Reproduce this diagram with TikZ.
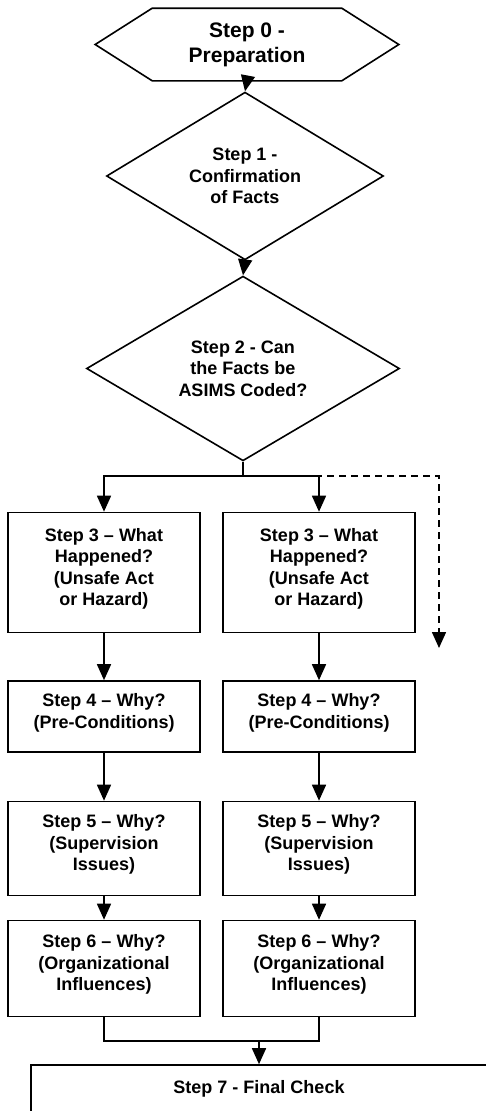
\documentclass[tikz,border=0pt]{standalone}
\usepackage{fontspec}
\setmainfont{Liberation Sans}
\usetikzlibrary{shapes.geometric,arrows.meta}

\begin{document}
\begin{tikzpicture}[x=1pt,y=-1pt,
  line width=1.6pt,
  every node/.style={font=\bfseries\fontsize{18}{21.5}\selectfont, align=center, inner sep=0pt},
  stepbox/.style={draw, rectangle, minimum width=192pt, text depth=11.5pt},
  decision/.style={draw, diamond},
  flow/.style={-{Triangle[length=16pt,width=14pt]}},
]
\useasboundingbox (0,0) rectangle (485,1111);

% steps 0 to 2
\node[minimum width=188pt, minimum height=71pt, font=\bfseries\fontsize{21}{25}\selectfont] (s0) at (247,44.5) {Step 0 -\\Preparation};
\draw (s0.north west) -- (s0.north east) -- ([xshift=57pt]s0.east) -- (s0.south east) -- (s0.south west) -- ([xshift=-57pt]s0.west) -- cycle;
\node[decision, minimum width=277pt, minimum height=142pt] (s1) at (245,176) {Step 1 -\\Confirmation\\of Facts};
\node[decision, minimum width=313pt, minimum height=143pt] (s2) at (243,368.5) {Step 2 - Can\\the Facts be\\ASIMS Coded?};
\draw[flow] (s0.south) -- (s1.north);
\draw[flow] (s1.south) -- (s2.north);

% two columns
\node[stepbox, minimum height=120pt] (l3) at (104,572.5) {Step 3 -- What\\Happened?\\(Unsafe Act\\or Hazard)};
\node[stepbox, minimum height=71pt] (l4) at (104,716.5) {Step 4 -- Why?\\(Pre-Conditions)};
\node[stepbox, minimum height=94pt] (l5) at (104,848.5) {Step 5 -- Why?\\(Supervision\\Issues)};
\node[stepbox, minimum height=96pt] (l6) at (104,968.5) {Step 6 -- Why?\\(Organizational\\Influences)};
\node[stepbox, minimum height=120pt] (r3) at (319,572.5) {Step 3 -- What\\Happened?\\(Unsafe Act\\or Hazard)};
\node[stepbox, minimum height=71pt] (r4) at (319,716.5) {Step 4 -- Why?\\(Pre-Conditions)};
\node[stepbox, minimum height=94pt] (r5) at (319,848.5) {Step 5 -- Why?\\(Supervision\\Issues)};
\node[stepbox, minimum height=96pt] (r6) at (319,968.5) {Step 6 -- Why?\\(Organizational\\Influences)};

\coordinate (j) at (243,476);
\coordinate (dsh) at (439,476);
\coordinate (dshend) at (439,648);
\draw[flow, dash pattern=on 7pt off 5pt] (j) -- (dsh) -- (dshend);
\draw (s2.south) -- (j);
\draw[flow] (j) -| (l3.north);
\draw[flow] (j) -| (r3.north);

\draw[flow] (l3) -- (l4);
\draw[flow] (l4) -- (l5);
\draw[flow] (l5) -- (l6);
\draw[flow] (r3) -- (r4);
\draw[flow] (r4) -- (r5);
\draw[flow] (r5) -- (r6);

% step 7
\node[draw, minimum width=456pt, minimum height=48pt] (s7) at (259,1089) {Step 7 - Final Check};
\coordinate (mrg) at (259,1041);
\draw (l6.south) |- (mrg) -| (r6.south);
\draw[flow] (mrg) -- (s7.north);
\end{tikzpicture}
\end{document}
